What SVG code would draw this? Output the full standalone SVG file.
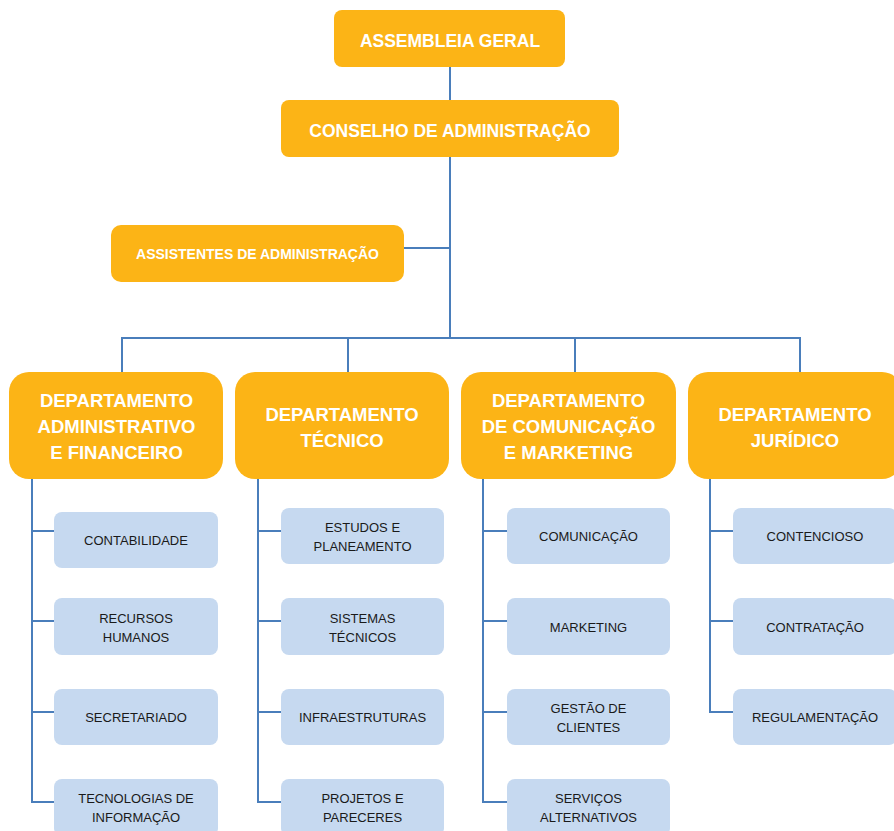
<svg xmlns="http://www.w3.org/2000/svg" width="894" height="831" viewBox="0 0 894 831">
<style>
.top{fill:#FCB416}
.sub{fill:#C6D9F0}
.tw{font-family:"Liberation Sans",Arial,sans-serif;font-weight:bold;fill:#fff;text-anchor:middle}
.ts{font-family:"Liberation Sans",Arial,sans-serif;font-size:13px;fill:#1a1a1a;text-anchor:middle}
.ln{fill:none;stroke:#4A7EBB;stroke-width:2}
</style>
<rect width="894" height="831" fill="#fff"/>
<g id="connectors" class="ln">
<path d="M450 67V338"/>
<path d="M404 248H450"/>
<path d="M122 372V338H800V372"/>
<path d="M348 338V372"/>
<path d="M575 338V372"/>
<path d="M32 479V802H54M32 531H54M32 621H54M32 712H54"/>
<path d="M258 479V802H281M258 531H281M258 621H281M258 712H281"/>
<path d="M483 479V802H507M483 531H507M483 621H507M483 712H507"/>
<path d="M710 479V712H733M710 531H733M710 621H733"/>
</g>
<g id="assembleia"><rect class="top" x="334" y="10" width="231" height="57" rx="8"/><text class="tw" x="450" y="47" font-size="17.5">ASSEMBLEIA GERAL</text></g>
<g id="conselho"><rect class="top" x="281" y="100" width="338" height="57" rx="8"/><text class="tw" x="450" y="137" font-size="17.5">CONSELHO DE ADMINISTRAÇÃO</text></g>
<g id="assistentes"><rect class="top" x="111" y="225" width="293" height="57" rx="10"/><text class="tw" x="257.5" y="259" font-size="14">ASSISTENTES DE ADMINISTRAÇÃO</text></g>
<g id="dept-admin"><rect class="top" x="9" y="372" width="214" height="107" rx="20"/><text class="tw" font-size="18.5" x="116.5"><tspan x="116.5" y="407">DEPARTAMENTO</tspan><tspan x="116.5" y="433">ADMINISTRATIVO</tspan><tspan x="116.5" y="459">E FINANCEIRO</tspan></text></g>
<g id="dept-tecnico"><rect class="top" x="235" y="372" width="214" height="107" rx="20"/><text class="tw" font-size="18.5"><tspan x="342" y="421">DEPARTAMENTO</tspan><tspan x="342" y="447">TÉCNICO</tspan></text></g>
<g id="dept-comunicacao"><rect class="top" x="461" y="372" width="215" height="107" rx="20"/><text class="tw" font-size="18.5"><tspan x="568.5" y="407">DEPARTAMENTO</tspan><tspan x="568.5" y="433">DE COMUNICAÇÃO</tspan><tspan x="568.5" y="459">E MARKETING</tspan></text></g>
<g id="dept-juridico"><rect class="top" x="688" y="372" width="214" height="107" rx="20"/><text class="tw" font-size="18.5"><tspan x="795" y="421">DEPARTAMENTO</tspan><tspan x="795" y="447">JURÍDICO</tspan></text></g>
<g id="contabilidade"><rect class="sub" x="54" y="512" width="164" height="56" rx="8"/><text class="ts" x="136" y="545">CONTABILIDADE</text></g>
<g id="recursos-humanos"><rect class="sub" x="54" y="598" width="164" height="57" rx="8"/><text class="ts"><tspan x="136" y="623">RECURSOS</tspan><tspan x="136" y="642">HUMANOS</tspan></text></g>
<g id="secretariado"><rect class="sub" x="54" y="689" width="164" height="56" rx="8"/><text class="ts" x="136" y="722">SECRETARIADO</text></g>
<g id="tecnologias"><rect class="sub" x="54" y="779" width="164" height="57" rx="8"/><text class="ts"><tspan x="136" y="803">TECNOLOGIAS DE</tspan><tspan x="136" y="822">INFORMAÇÃO</tspan></text></g>
<g id="estudos"><rect class="sub" x="281" y="508" width="163" height="56" rx="8"/><text class="ts"><tspan x="362.5" y="532">ESTUDOS E</tspan><tspan x="362.5" y="551">PLANEAMENTO</tspan></text></g>
<g id="sistemas"><rect class="sub" x="281" y="598" width="163" height="57" rx="8"/><text class="ts"><tspan x="362.5" y="623">SISTEMAS</tspan><tspan x="362.5" y="642">TÉCNICOS</tspan></text></g>
<g id="infraestruturas"><rect class="sub" x="281" y="689" width="163" height="56" rx="8"/><text class="ts" x="362.5" y="722">INFRAESTRUTURAS</text></g>
<g id="projetos"><rect class="sub" x="281" y="779" width="163" height="57" rx="8"/><text class="ts"><tspan x="362.5" y="803">PROJETOS E</tspan><tspan x="362.5" y="822">PARECERES</tspan></text></g>
<g id="comunicacao"><rect class="sub" x="507" y="508" width="163" height="56" rx="8"/><text class="ts" x="588.5" y="541">COMUNICAÇÃO</text></g>
<g id="marketing"><rect class="sub" x="507" y="598" width="163" height="57" rx="8"/><text class="ts" x="588.5" y="632">MARKETING</text></g>
<g id="gestao-clientes"><rect class="sub" x="507" y="689" width="163" height="56" rx="8"/><text class="ts"><tspan x="588.5" y="713">GESTÃO DE</tspan><tspan x="588.5" y="732">CLIENTES</tspan></text></g>
<g id="servicos"><rect class="sub" x="507" y="779" width="163" height="57" rx="8"/><text class="ts"><tspan x="588.5" y="803">SERVIÇOS</tspan><tspan x="588.5" y="822">ALTERNATIVOS</tspan></text></g>
<g id="contencioso"><rect class="sub" x="733" y="508" width="164" height="56" rx="8"/><text class="ts" x="815" y="541">CONTENCIOSO</text></g>
<g id="contratacao"><rect class="sub" x="733" y="598" width="164" height="57" rx="8"/><text class="ts" x="815" y="632">CONTRATAÇÃO</text></g>
<g id="regulamentacao"><rect class="sub" x="733" y="689" width="164" height="56" rx="8"/><text class="ts" x="815" y="722">REGULAMENTAÇÃO</text></g>
</svg>
